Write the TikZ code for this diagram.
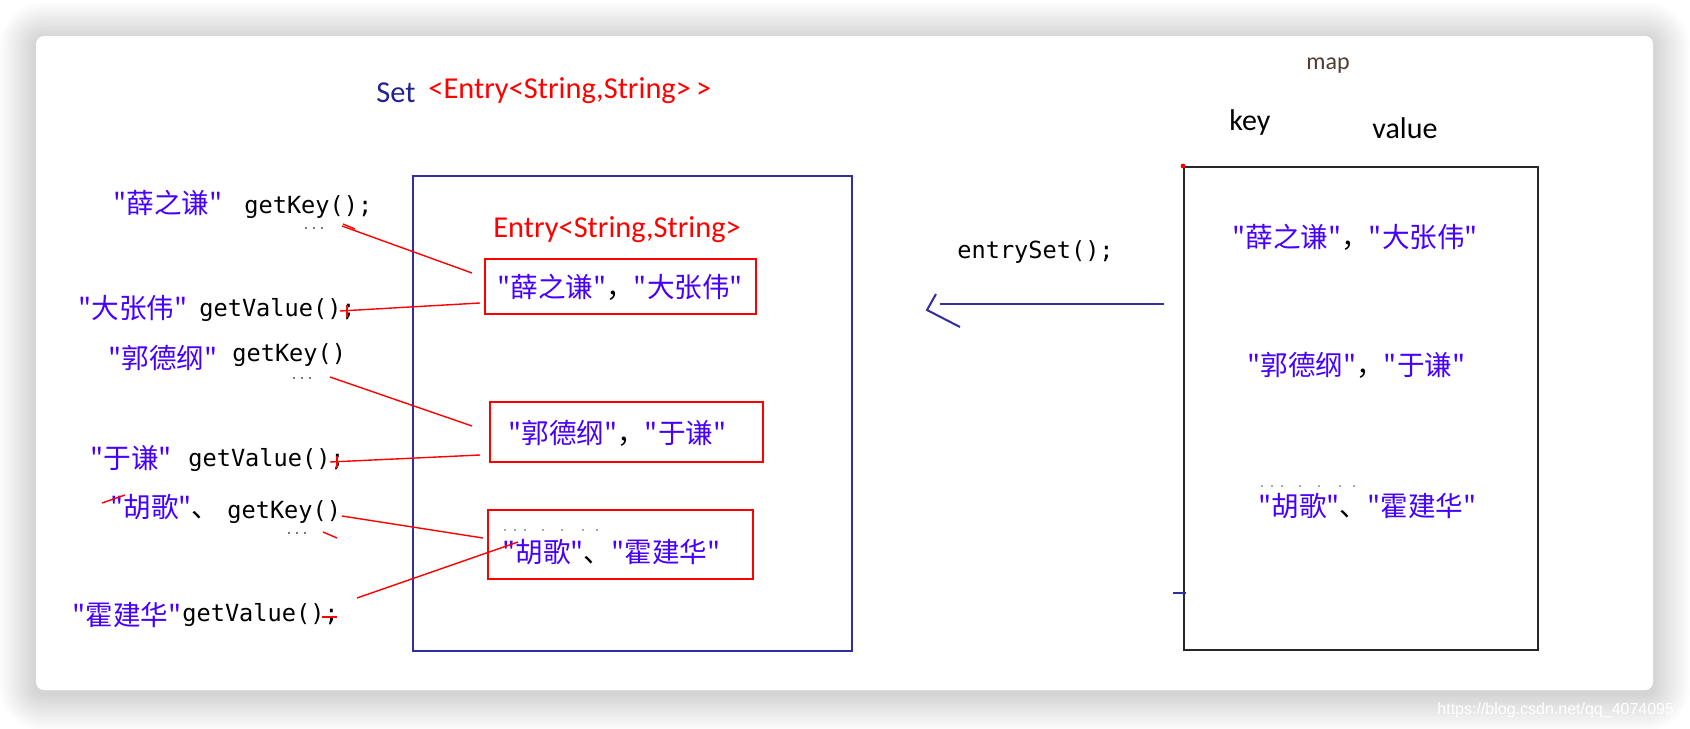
\documentclass[tikz,border=0pt]{standalone}
\usepackage{fontspec}
\setmainfont{Carlito}
\newfontfamily\cjk{Noto Sans CJK SC}
\newfontfamily\mono{DejaVu Sans Mono}
\newfontfamily\wmfont{Liberation Sans}
\definecolor{navy}{RGB}{50,45,160}
\definecolor{setnavy}{RGB}{35,35,140}
\definecolor{cblue}{RGB}{70,0,255}
\definecolor{cred}{RGB}{255,0,0}
\definecolor{mapc}{RGB}{80,60,50}
\definecolor{dotc}{RGB}{120,150,130}
\definecolor{boxk}{RGB}{40,40,40}
\begin{document}
\begin{tikzpicture}[x=0.5pt,y=-0.5pt,
  lbl/.style={inner sep=0pt, anchor=west},
  zh/.style={lbl, font=\cjk\fontsize{13.8}{16}\selectfont, text=cblue},
  code/.style={lbl, font=\mono\fontsize{11.8}{14}\selectfont, text=black},
  cal/.style={lbl, font=\fontsize{15.2}{17}\selectfont},
  redbox/.style={draw=cred, line width=1pt, inner sep=0pt},
  redline/.style={draw=cred, line width=0.7pt},
  navyline/.style={draw=navy, line width=1pt},
  wm/.style={inner sep=0pt, anchor=base west, font=\wmfont\fontsize{8}{10}\selectfont, text=white},
]
\clip (0,0) rectangle (1690,728);
\fill[white] (0,0) rectangle (1690,728);
% card shadow
\foreach \i in {1,...,14}{
  \pgfmathsetmacro\dd{\i*2.6}
  \pgfmathsetmacro\rr{4+\i*1.3}
  \fill[black, opacity=0.011, rounded corners=\rr pt] (36-\dd,39-\dd) rectangle (1653+\dd,694+\dd);
}
% card
\fill[white, rounded corners=4pt] (36,36) rectangle (1653,690);

% watermark
\node[wm] (wm) at (1437,714) {https://blog.csdn.net/qq\_4074095};

% title
\node[cal, text=setnavy] (set) at (376,93) {Set};
\node[cal, text=cred] (settype) at (428,91) {<Entry<String,String>\,>};

% Set box
\node[draw=navy, line width=1.1pt, minimum width=219.5pt, minimum height=237.5pt, inner sep=0pt] (setbox) at (632.5,413.5) {};
\node[cal, text=cred] (etype) at (493,230) {Entry<String,String>};

% entry boxes
\node[redbox, minimum width=135.5pt, minimum height=27.5pt] (b1) at (620.5,286.5) {};
\node[redbox, minimum width=136.5pt, minimum height=30pt] (b2) at (626.5,432) {};
\node[redbox, minimum width=132.5pt, minimum height=34.5pt] (b3) at (620.5,544.5) {};
\node[zh] (e1) at (497,287) {"薛之谦"\textcolor{black}{，}"大张伟"};
\node[zh] (e2) at (508,433) {"郭德纲"\textcolor{black}{，}"于谦"};
\node[zh] (e3) at (502,552) {"胡歌"\textcolor{black}{、}"霍建华"};
\foreach \x in {505,515,525,543,562,583,597} \fill[dotc] (\x,530) circle (0.6pt);

% map box
\node[lbl, font=\fontsize{12}{13}\selectfont, text=mapc] (map) at (1306,66) {map};
\node[cal, font=\fontsize{15}{17}\selectfont, text=black] (key) at (1229,122) {key};
\node[cal, font=\fontsize{15}{17}\selectfont, text=black] (val) at (1372,128) {value};
\node[draw=boxk, line width=1pt, minimum width=177pt, minimum height=241.5pt, inner sep=0pt] (mapbox) at (1361,408.5) {};
\fill[cred] (1183,166) circle (1.2pt);
\coordinate (tk1) at (1173,593);
\coordinate (tk2) at (1186,593);
\draw[navyline] (tk1) -- (tk2);
\node[zh] (m1) at (1232,237) {"薛之谦"\textcolor{black}{，}"大张伟"};
\node[zh] (m2) at (1247,365) {"郭德纲"\textcolor{black}{，}"于谦"};
\node[zh] (m3) at (1258,506) {"胡歌"\textcolor{black}{、}"霍建华"};
\foreach \x in {1262,1272,1282,1300,1319,1340,1354} \fill[dotc] (\x,486) circle (0.6pt);

% entrySet arrow
\node[code] (es) at (957,252) {entrySet();};
\coordinate (arS) at (1164,304);
\coordinate (arE) at (940,304);
\draw[navyline] (arS) -- (arE);
\draw[navyline] ([shift={(-4,-10)}]arE) -- ([shift={(-13,6)}]arE) -- ([shift={(20,23)}]arE);

% left labels
\node[zh] (n1) at (113,203) {"薛之谦"};
\node[code] (g1) at (244,207) {getKey();};
\node[zh] (n2) at (78,308) {"大张伟"};
\node[code] (g2) at (199,310) {getValue();};
\node[zh] (n3) at (108,358) {"郭德纲"};
\node[code] (g3) at (232,355) {getKey()};
\node[zh] (n4) at (90,458) {"于谦"};
\node[code] (g4) at (188,460) {getValue();};
\node[zh] (n5) at (110,507) {"胡歌"\textcolor{black}{、}};
\node[code] (g5) at (227,512) {getKey()};
\node[zh] (n6) at (72,615) {"霍建华"};
\node[code] (g6) at (182,615) {getValue();};
% small dotted marks under getKey
\foreach \x in {306,314,322} \fill[black!70] (\x,228) circle (0.6pt);
\foreach \x in {294,302,310} \fill[black!70] (\x,378) circle (0.6pt);
\foreach \x in {289,297,305} \fill[black!70] (\x,533) circle (0.6pt);

% red connectors
\coordinate (c1s) at (342,226); \coordinate (c1e) at (472,273);
\coordinate (c2s) at (340,311); \coordinate (c2e) at (480,303);
\coordinate (c3s) at (330,377); \coordinate (c3e) at (472,426);
\coordinate (c4s) at (330,462); \coordinate (c4e) at (480,455);
\coordinate (c5s) at (342,516); \coordinate (c5e) at (483,538);
\coordinate (c6s) at (357,598); \coordinate (c6e) at (518,542);
\draw[redline] (c1s) -- (c1e);
\draw[redline] (c2s) -- (c2e);
\draw[redline] (c3s) -- (c3e);
\draw[redline] (c4s) -- (c4e);
\draw[redline] (c5s) -- (c5e);
\draw[redline] (c6s) -- (c6e);
% small red marks
\draw[redline] (343,224) -- (355,229);
\draw[redline] (347,305) -- (347,317);
\draw[redline] (337,456) -- (337,468);
\draw[redline] (323,532) -- (337,538);
\draw[redline] (322,617) -- (337,617);
\draw[redline] (102,503) -- (125,495);
\end{tikzpicture}
\end{document}
